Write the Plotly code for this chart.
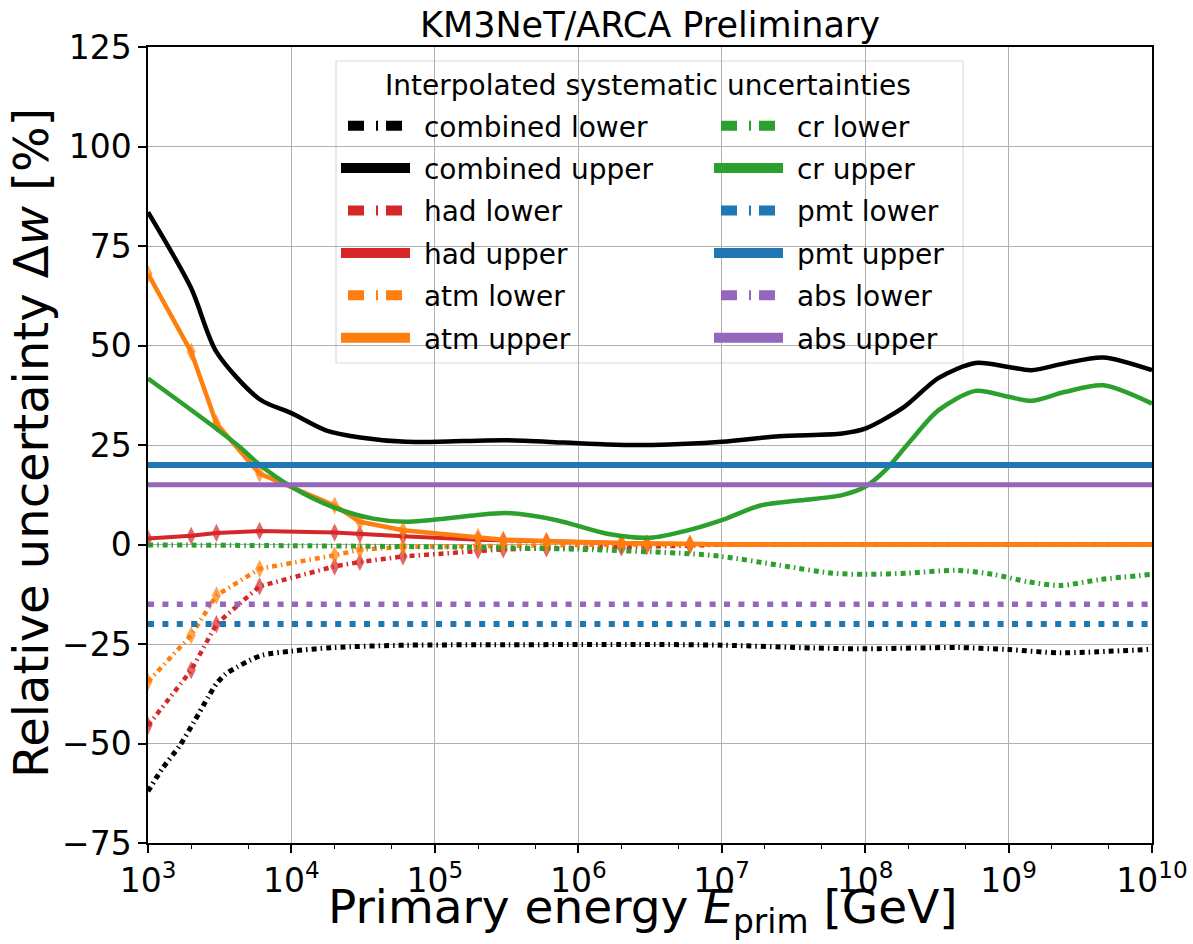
import numpy as np
import plotly.graph_objects as go

# ---------------- data ----------------
# simulation grid (GeV) used for the hadronic / atmospheric points
sim_E = [1e3, 2e3, 3e3, 6e3, 2e4, 3e4, 6e4, 2e5, 3e5, 6e5, 2e6, 3e6, 6e6, 1e7, 1e8, 1e9, 1e10]
sim_has_marker = [1, 1, 1, 1, 1, 1, 1, 1, 1, 1, 1, 1, 1, 0, 0, 0, 0]
had_upper = [1.5, 2.2, 2.9, 3.4, 3.0, 2.6, 2.1, 1.2, 1.0, 0.8, 0.4, 0.3, 0.1, 0, 0, 0, 0]
had_lower = [-45.5, -31.6, -20.0, -10.5, -5.5, -4.4, -3.0, -1.5, -1.2, -1.0, -0.8, -0.5, -0.3, 0, 0, 0, 0]
atm_upper = [68.0, 48.4, 30.4, 17.8, 9.8, 5.7, 3.6, 1.9, 1.2, 0.9, 0.4, 0.2, 0.2, 0, 0, 0, 0]
atm_lower = [-34.5, -22.8, -12.8, -6.1, -2.7, -1.3, -0.6, -0.3, -0.2, -0.1, 0, 0, 0, 0, 0, 0, 0]

comb_up_log10E = [3.0, 3.301, 3.477, 3.778, 4.0, 4.24, 4.48, 4.8, 5.2, 5.5, 5.9, 6.2, 6.52, 7.0,
                  7.4, 7.84, 8.0, 8.27, 8.51, 8.77, 9.0, 9.16, 9.39, 9.66, 10.0]
comb_upper = [83.5, 64.4, 48.4, 36.5, 33.0, 28.7, 26.9, 25.8, 26.0, 26.2, 25.6, 25.1, 25.0, 25.8,
              27.2, 27.9, 29.1, 34.5, 41.8, 45.6, 44.6, 43.8, 45.5, 47.0, 43.8]

comb_lo_log10E = [3.0, 3.1, 3.22, 3.32, 3.42, 3.477, 3.54, 3.62, 3.71, 3.80, 4.0, 4.29, 4.8, 5.5,
                  6.4, 7.0, 7.64, 8.0, 8.64, 9.0, 9.36, 10.0]
comb_lower = [-62.0, -56.3, -50.6, -44.6, -38.3, -35.0, -32.6, -30.8, -29.1, -27.8, -26.8, -25.9,
              -25.3, -25.2, -25.1, -25.3, -26.0, -26.2, -25.9, -26.4, -27.2, -26.3]

cr_up_log10E = [3.0, 3.477, 3.64, 3.77, 4.0, 4.29, 4.57, 4.8, 5.27, 5.5, 5.85, 6.2, 6.5, 6.77, 7.0,
                7.27, 7.55, 7.84, 8.0, 8.14, 8.32, 8.51, 8.77, 9.0, 9.16, 9.39, 9.66, 10.0]
cr_upper = [41.7, 29.1, 24.5, 20.3, 14.5, 9.4, 6.5, 5.7, 7.3, 7.9, 6.1, 2.7, 1.7, 3.6, 6.1,
            9.8, 11.1, 12.4, 14.5, 18.6, 26.2, 33.7, 38.6, 37.1, 36.1, 38.3, 40.0, 35.4]

cr_lo_log10E = [3.0, 4.0, 5.0, 6.0, 6.77, 7.0, 7.4, 7.77, 8.0, 8.29, 8.64, 8.89, 9.14, 9.36, 9.64, 10.0]
cr_lower = [-0.1, -0.3, -0.6, -1.2, -2.3, -3.0, -5.2, -7.2, -7.5, -7.2, -6.5, -7.5, -9.4, -10.3, -8.8, -7.5]

flat_E = [1e3, 1e10]
pmt_upper = [20, 20]
pmt_lower = [-20, -20]
abs_upper = [15, 15]
abs_lower = [-15, -15]

x_tick_vals = [1e3, 1e4, 1e5, 1e6, 1e7, 1e8, 1e9, 1e10]
x_tick_text = ["10<sup>%d</sup>" % p for p in range(3, 11)]

legend_col1 = ["combined lower", "combined upper", "had lower", "had upper", "atm lower", "atm upper"]
legend_col2 = ["cr lower", "cr upper", "pmt lower", "pmt upper", "abs lower", "abs upper"]

# ---------------- style ----------------
BLACK, RED, ORANGE, GREEN, BLUE, PURPLE = "#000000", "#d62728", "#ff7f0e", "#2ca02c", "#1f77b4", "#9467bd"
COLORS = {"combined": BLACK, "had": RED, "atm": ORANGE, "cr": GREEN, "pmt": BLUE, "abs": PURPLE}
DASHDOT = "5px,4px,1.5px,4px"
DOTTED = "6px,8.4px"
LEG_DASH = "0px,7px,16px,12px,2px,8px,16px,200px"
FONT = "DejaVu Sans"

fig = go.Figure()


def E_of(logs):
    return [10 ** v for v in logs]


def line(x, y, color, width, dash="solid", shape="linear"):
    fig.add_trace(go.Scatter(x=x, y=y, mode="lines", showlegend=False, hoverinfo="skip",
                             line=dict(color=color, width=width, dash=dash, shape=shape,
                                       smoothing=0.8 if shape == "spline" else None)))


def markers(x, y, color):
    sizes = [13 if m else 0 for m in sim_has_marker]
    fig.add_trace(go.Scatter(x=x, y=y, mode="markers", showlegend=False, hoverinfo="skip",
                             marker=dict(symbol="diamond-tall", size=sizes, color=color,
                                         line=dict(width=0))))


# plotted curves (drawing order as in the original)
line(E_of(comb_lo_log10E), comb_lower, BLACK, 5, DASHDOT, shape="spline")
line(E_of(comb_up_log10E), comb_upper, BLACK, 4.5, shape="spline")
line(sim_E, had_lower, RED, 4.5, DASHDOT)
markers(sim_E, had_lower, RED)
line(sim_E, had_upper, RED, 4)
markers(sim_E, had_upper, RED)
line(sim_E, atm_lower, ORANGE, 4.5, DASHDOT)
markers(sim_E, atm_lower, ORANGE)
line(sim_E, atm_upper, ORANGE, 4.5)
markers(sim_E, atm_upper, ORANGE)
line(E_of(cr_lo_log10E), cr_lower, GREEN, 5, DASHDOT, shape="spline")
line(E_of(cr_up_log10E), cr_upper, GREEN, 4.5, shape="spline")
line(flat_E, pmt_lower, BLUE, 6, DOTTED)
line(flat_E, pmt_upper, BLUE, 6)
line(flat_E, abs_lower, PURPLE, 5.5, DOTTED)
line(flat_E, abs_upper, PURPLE, 5)

# legend handles (thick, as in the original legend)
for leg, names in (("legend", legend_col1), ("legend2", legend_col2)):
    for nm in names:
        key = nm.split()[0]
        lower = nm.endswith("lower")
        fig.add_trace(go.Scatter(x=[None], y=[None], mode="lines", name="\u00a0" + nm, legend=leg,
                                 legendgroup=nm,
                                 line=dict(color=COLORS[key], width=15 if lower else 16,
                                           dash=LEG_DASH if lower else "solid")))

W, H = 1193, 944
L, R, T, B = 148, 41, 47, 101
pw, ph = W - L - R, H - T - B


def px_x(p):
    return (p - L) / pw


def px_y(p):
    return (H - B - p) / ph


legend_common = dict(font=dict(family=FONT, size=28, color="black"), bgcolor="rgba(0,0,0,0)",
                     borderwidth=0, xanchor="left", yanchor="top", itemclick=False,
                     itemdoubleclick=False, itemwidth=69, tracegroupgap=3)

fig.update_layout(
    width=W, height=H,
    margin=dict(l=L, r=R, t=T, b=B, autoexpand=False),
    paper_bgcolor="white", plot_bgcolor="white",
    font=dict(family=FONT, color="black"),
    title=dict(text="KM3NeT/ARCA Preliminary", font=dict(family=FONT, size=35, color="black"),
               x=0.5 * (L + W - R) / W, xanchor="center", xref="container",
               y=1 - 25 / H, yanchor="middle", yref="container"),
    legend=dict(x=px_x(336), y=px_y(101), **legend_common),
    legend2=dict(x=px_x(709), y=px_y(101), **legend_common),
    xaxis=dict(type="log", range=[3, 10], tickvals=x_tick_vals, ticktext=x_tick_text,
               tickfont=dict(family=FONT, size=33, color="black"), automargin=False,
               ticks="outside", ticklen=8, tickwidth=1.5, tickcolor="black",
               showline=True, linecolor="black", linewidth=1.5, mirror=True,
               showgrid=True, gridcolor="#b0b0b0", gridwidth=1, zeroline=False,
               minor=dict(ticks="outside", ticklen=4, tickwidth=1, tickcolor="black", showgrid=False)),
    yaxis=dict(range=[-75, 125], tick0=-75, dtick=25, automargin=False,
               tickfont=dict(family=FONT, size=33, color="black"),
               ticks="outside", ticklen=8, tickwidth=1.5, tickcolor="black",
               showline=True, linecolor="black", linewidth=1.5, mirror=True,
               showgrid=True, gridcolor="#b0b0b0", gridwidth=1, zeroline=False),
)

# axis titles
fig.add_annotation(text="Primary energy <i>E</i><sub>prim</sub> [GeV]", xref="paper", yref="paper",
                   x=px_x(643), y=px_y(943), xanchor="center", yanchor="bottom", showarrow=False,
                   font=dict(family=FONT, size=47, color="black"))
fig.add_annotation(text="Relative uncertainty Δ<i>w</i> [%]", xref="paper", yref="paper",
                   x=px_x(1), y=px_y(443), xanchor="left", yanchor="middle", showarrow=False,
                   textangle=-90, font=dict(family=FONT, size=48, color="black"))

# legend frame and title (matplotlib-style)
fig.add_shape(type="rect", xref="paper", yref="paper",
              x0=px_x(336), x1=px_x(963), y0=px_y(363), y1=px_y(61),
              line=dict(color="#d9d9d9", width=1.2), fillcolor="rgba(255,255,255,0.8)",
              layer="between")
fig.add_annotation(text="Interpolated systematic uncertainties", xref="paper", yref="paper",
                   x=px_x(648), y=px_y(85), xanchor="center", yanchor="middle", showarrow=False,
                   font=dict(family=FONT, size=28, color="black"))

fig.write_html("out.html")
